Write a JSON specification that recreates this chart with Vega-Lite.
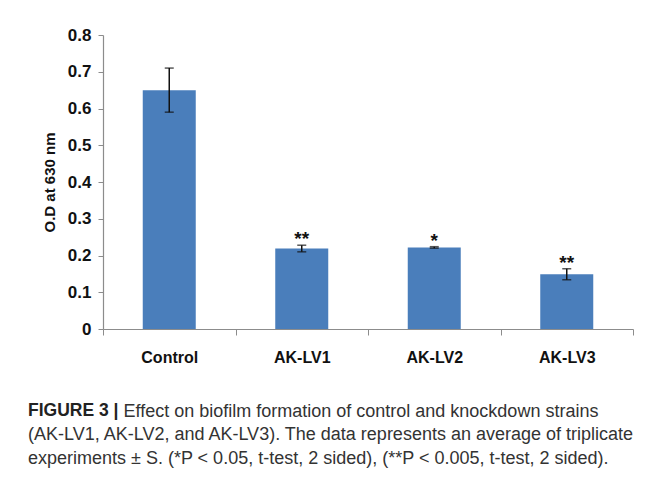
{
  "$schema": "https://vega.github.io/schema/vega-lite/v6.json",
  "width": 530,
  "height": 294,
  "autosize": {"type": "none"},
  "padding": {"left": 103, "top": 35, "right": 34, "bottom": 151},
  "background": "white",
  "config": {
    "view": {"stroke": null},
    "font": "Liberation Sans",
    "axisY": {
      "grid": false,
      "labelFont": "Liberation Sans",
      "labelFontSize": 17,
      "labelFontWeight": "bold",
      "labelColor": "#111111",
      "labelPadding": 7,
      "tickSize": 5,
      "tickColor": "#8c8c8c",
      "domainColor": "#8c8c8c",
      "domainWidth": 1.2,
      "titleFont": "Liberation Sans",
      "titleFontSize": 15,
      "titleFontWeight": "bold",
      "titleColor": "#111111",
      "titlePadding": 10
    }
  },
  "title": {
    "text": "FIGURE 3 |",
    "subtitle": [
      "(AK-LV1, AK-LV2, and AK-LV3). The data represents an average of triplicate",
      "experiments ± S. (*P < 0.05, t-test, 2 sided), (**P < 0.005, t-test, 2 sided)."
    ],
    "orient": "bottom",
    "anchor": "start",
    "frame": "group",
    "dx": -75,
    "offset": -18,
    "font": "Liberation Sans",
    "fontSize": 17.5,
    "fontWeight": "bold",
    "color": "#222222",
    "subtitleFont": "Liberation Sans",
    "subtitleFontSize": 18,
    "subtitleColor": "#333333",
    "subtitleLineHeight": 24,
    "subtitlePadding": 6
  },
  "data": {
    "values": [
      {"strain": "Control", "od": 0.65, "lo": 0.59, "hi": 0.71, "sig": ""},
      {"strain": "AK-LV1", "od": 0.219, "lo": 0.21, "hi": 0.228, "sig": "**"},
      {"strain": "AK-LV2", "od": 0.222, "lo": 0.22, "hi": 0.224, "sig": "*"},
      {"strain": "AK-LV3", "od": 0.149, "lo": 0.134, "hi": 0.164, "sig": "**"}
    ]
  },
  "encoding": {
    "x": {
      "field": "strain",
      "type": "nominal",
      "sort": null,
      "scale": {"paddingInner": 0, "paddingOuter": 0},
      "axis": {
        "labelAngle": 0,
        "labelFont": "Liberation Sans",
        "labelFontSize": 16,
        "labelFontWeight": "bold",
        "labelColor": "#111111",
        "labelPadding": 14,
        "tickBand": "extent",
        "tickSize": 6,
        "tickColor": "#8c8c8c",
        "domainColor": "#8c8c8c",
        "domainWidth": 1.2,
        "title": "Effect on biofilm formation of control and knockdown strains",
        "titleFont": "Liberation Sans",
        "titleFontSize": 18,
        "titleFontWeight": "normal",
        "titleColor": "#333333",
        "titleAlign": "left",
        "titleAnchor": null,
        "titleBaseline": "alphabetic",
        "titleX": 20,
        "titleY": 87
      }
    }
  },
  "layer": [
    {
      "mark": {"type": "bar", "width": {"band": 0.4}, "color": "#4a7ebb"},
      "encoding": {
        "y": {
          "field": "od",
          "type": "quantitative",
          "scale": {"domain": [0, 0.8]},
          "axis": {
            "values": [0, 0.1, 0.2, 0.3, 0.4, 0.5, 0.6, 0.7, 0.8],
            "labelExpr": "datum.value == 0 ? '0' : format(datum.value, '.1f')",
            "title": "O.D at 630 nm"
          }
        }
      }
    },
    {
      "mark": {"type": "rule", "color": "#111111", "strokeWidth": 1.5},
      "encoding": {
        "y": {
          "field": "lo",
          "type": "quantitative",
          "axis": {
            "values": [0, 0.1, 0.2, 0.3, 0.4, 0.5, 0.6, 0.7, 0.8],
            "labelExpr": "datum.value == 0 ? '0' : format(datum.value, '.1f')",
            "title": "O.D at 630 nm"
          }
        },
        "y2": {"field": "hi"}
      }
    },
    {
      "mark": {"type": "tick", "color": "#111111", "size": 9, "thickness": 1.5},
      "encoding": {
        "y": {
          "field": "lo",
          "type": "quantitative",
          "axis": {
            "values": [0, 0.1, 0.2, 0.3, 0.4, 0.5, 0.6, 0.7, 0.8],
            "labelExpr": "datum.value == 0 ? '0' : format(datum.value, '.1f')",
            "title": "O.D at 630 nm"
          }
        }
      }
    },
    {
      "mark": {"type": "tick", "color": "#111111", "size": 9, "thickness": 1.5},
      "encoding": {
        "y": {
          "field": "hi",
          "type": "quantitative",
          "axis": {
            "values": [0, 0.1, 0.2, 0.3, 0.4, 0.5, 0.6, 0.7, 0.8],
            "labelExpr": "datum.value == 0 ? '0' : format(datum.value, '.1f')",
            "title": "O.D at 630 nm"
          }
        }
      }
    },
    {
      "mark": {"type": "text", "fontSize": 19, "fontWeight": "bold", "baseline": "alphabetic", "color": "#111111", "font": "Liberation Sans"},
      "encoding": {
        "y": {
          "field": "hi",
          "type": "quantitative",
          "axis": {
            "values": [0, 0.1, 0.2, 0.3, 0.4, 0.5, 0.6, 0.7, 0.8],
            "labelExpr": "datum.value == 0 ? '0' : format(datum.value, '.1f')",
            "title": "O.D at 630 nm"
          }
        },
        "text": {"field": "sig"}
      }
    }
  ]
}
